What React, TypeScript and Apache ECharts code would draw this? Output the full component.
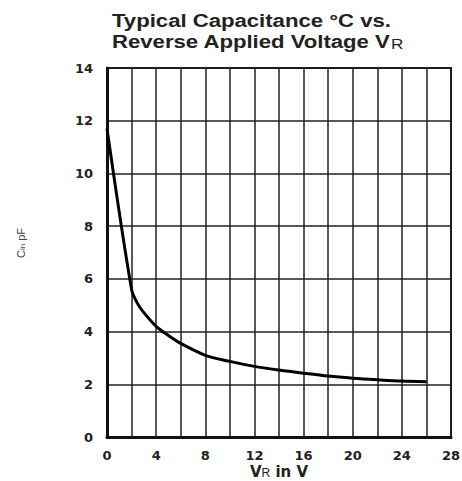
import React, { useEffect, useRef } from "react";
import * as echarts from "echarts";

const vr = [0, 2, 2.5, 3, 4, 5, 6, 8, 10, 12, 14, 16, 18, 20, 22, 24, 26];
const cap = [11.7, 5.6, 5.05, 4.72, 4.2, 3.85, 3.55, 3.1, 2.87, 2.68, 2.54, 2.42, 2.31, 2.23, 2.17, 2.12, 2.1];
const xTicks = [0, 4, 8, 12, 16, 20, 24, 28];
const yTicks = [0, 2, 4, 6, 8, 10, 12, 14];

export default function App() {
  const ref = useRef<HTMLDivElement>(null);
  useEffect(() => {
    if (!ref.current) return;
    const chart = echarts.init(ref.current, null, { renderer: "svg" });
    const font = "'Liberation Sans', Arial, sans-serif";
    const wide = "'DejaVu Sans', sans-serif";
    chart.setOption({
      animation: false,
      backgroundColor: "#fff",
      grid: {
        left: 107, right: 11, top: 68, bottom: 44,
        outerBoundsMode: "none",
        show: true, borderColor: "#111", borderWidth: 2,
      },
      graphic: [
        {
          type: "text",
          x: 112,
          y: 9,
          scaleX: 1.23,
          style: {
            text: "{t|Typical Capacitance °C vs.}\n{t|Reverse Applied Voltage V}{s|R}",
            font: `bold 18px ${font}`,
            fill: "#222",
            rich: {
              t: { fontFamily: font, fontWeight: "bold", fontSize: 18, lineHeight: 21, verticalAlign: "bottom", fill: "#222" },
              s: { fontFamily: font, fontWeight: "normal", fontSize: 14, lineHeight: 10, verticalAlign: "bottom", fill: "#222" },
            },
          },
        },
        {
          type: "text",
          x: 19,
          y: 243,
          rotation: Math.PI / 2,
          style: {
            text: "{c|C}{i|in}{c| pF}",
            align: "center",
            verticalAlign: "middle",
            fill: "#444",
            rich: {
              c: { fontFamily: font, fontSize: 11, lineHeight: 14, verticalAlign: "bottom", fill: "#444" },
              i: { fontFamily: font, fontSize: 8, lineHeight: 9, verticalAlign: "bottom", fill: "#444" },
            },
          },
        },
      ],
      xAxis: {
        type: "value",
        min: 0,
        max: 28,
        interval: 2,
        name: "{a|V}{s|R}{a| in V}",
        nameLocation: "middle",
        nameGap: 27,
        nameMoveOverlap: false,
        nameTextStyle: {
          rich: {
            a: { fontFamily: wide, fontWeight: "bold", fontSize: 15, lineHeight: 15, verticalAlign: "bottom", color: "#222" },
            s: { fontFamily: font, fontWeight: "normal", fontSize: 12, lineHeight: 8, verticalAlign: "bottom", color: "#222" },
          },
        },
        axisLine: { show: true, lineStyle: { color: "#111", width: 3 } },
        axisTick: { show: false },
        axisLabel: {
          margin: 12,
          fontFamily: wide,
          fontWeight: "bold",
          fontSize: 13,
          color: "#222",
          formatter: (v: number) => (xTicks.includes(v) ? String(v) : ""),
        },
        splitLine: { show: true, lineStyle: { color: "#222", width: 1.5 } },
      },
      yAxis: {
        type: "value",
        min: 0,
        max: 14,
        interval: 2,
        axisLine: { show: true, lineStyle: { color: "#111", width: 3 } },
        axisTick: { show: false },
        axisLabel: {
          margin: 14,
          fontFamily: wide,
          fontWeight: "bold",
          fontSize: 13,
          color: "#222",
          formatter: (v: number) => (yTicks.includes(v) ? String(v) : ""),
        },
        splitLine: { show: true, lineStyle: { color: "#222", width: 1.5 } },
      },
      series: [
        {
          type: "line",
          data: vr.map((x, i) => [x, cap[i]]),
          showSymbol: false,
          smooth: 0.3,
          lineStyle: { color: "#000", width: 3 },
        },
      ],
    });
    return () => chart.dispose();
  }, []);
  return (
    <div
      ref={ref}
      style={{ position: "absolute", left: 0, top: 0, width: 462, height: 481 }}
    />
  );
}
